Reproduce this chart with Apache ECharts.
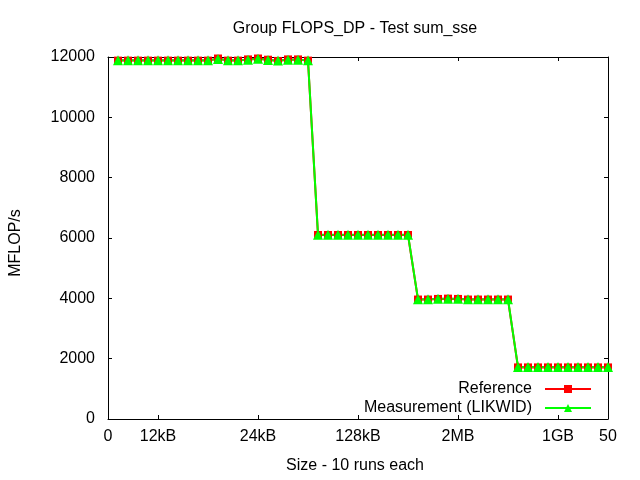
<!DOCTYPE html>
<html><head><meta charset="utf-8">
<script src="https://cdn.jsdelivr.net/npm/echarts@6/dist/echarts.min.js"></script>
<style>html,body{margin:0;padding:0;background:#fff}#c{width:640px;height:480px}</style>
</head><body><div id="c"></div>
<script>
const runs = [1,2,3,4,5,6,7,8,9,10,11,12,13,14,15,16,17,18,19,20,21,22,23,24,25,26,27,28,29,30,31,32,33,34,35,36,37,38,39,40,41,42,43,44,45,46,47,48,49,50];
const reference = [11880,11880,11880,11880,11880,11880,11880,11880,11880,11880,
  11950,11880,11880,11920,11950,11910,11870,11920,11920,11880,
  6100,6100,6100,6100,6100,6100,6100,6100,6100,6100,
  3960,3960,3980,3990,3980,3960,3960,3960,3960,3960,
  1710,1710,1710,1710,1710,1710,1710,1710,1710,1710];
const measurement = [11890,11890,11890,11890,11890,11890,11890,11890,11890,11890,
  11930,11890,11890,11910,11940,11900,11880,11910,11910,11890,
  6110,6110,6110,6110,6110,6110,6110,6110,6110,6110,
  3970,3970,3990,3990,3990,3970,3970,3970,3970,3970,
  1720,1720,1720,1720,1720,1720,1720,1720,1720,1720];
const xTickValues = [5,15,25,35,45];
const xLabelValues = [0,5,15,25,35,45,50];
const xLabelTexts = {0:'0',5:'12kB',15:'24kB',25:'128kB',35:'2MB',45:'1GB',50:'50'};

const font = 'Liberation Sans, Arial, sans-serif';
const chart = echarts.init(document.getElementById('c'));
const axisCommon = {
  axisLine:{show:true,onZero:false,lineStyle:{color:'#000',width:1}},
  splitLine:{show:false}
};
chart.setOption({
  animation:false,
  backgroundColor:'#fff',
  title:{text:'Group FLOPS_DP - Test sum_sse',left:350,top:16,textAlign:'center',
    textStyle:{fontFamily:font,fontSize:16,fontWeight:'normal',color:'#000'}},
  grid:{left:105,right:32,top:57,bottom:61},
  legend:{orient:'vertical',right:43,top:376,align:'right',itemWidth:46,itemHeight:10,itemGap:3,
    textStyle:{fontFamily:font,fontSize:16,color:'#000',padding:[0,8,0,0]},
    data:['Reference','Measurement (LIKWID)']},
  xAxis:[
    Object.assign({type:'value',min:0,max:50,position:'bottom',name:'Size - 10 runs each',
      nameLocation:'middle',nameGap:39,nameTextStyle:{fontFamily:font,fontSize:16,color:'#000',padding:[0,6,0,0]},
      axisTick:{show:true,inside:true,length:4,customValues:xTickValues,lineStyle:{color:'#000'}},
      axisLabel:{show:true,customValues:xLabelValues,margin:10,fontFamily:font,fontSize:16,color:'#000',
        formatter:v=>xLabelTexts[v]!==undefined?xLabelTexts[v]:''}},axisCommon),
    Object.assign({type:'value',min:0,max:50,position:'top',
      axisTick:{show:true,inside:true,length:4,customValues:xTickValues,lineStyle:{color:'#000'}},
      axisLabel:{show:false}},axisCommon)
  ],
  yAxis:[
    Object.assign({type:'value',min:0,max:12000,interval:2000,position:'left',name:'MFLOP/s',
      nameLocation:'middle',nameGap:84,nameTextStyle:{fontFamily:font,fontSize:16,color:'#000',padding:[0,10,0,0]},
      axisTick:{show:true,inside:true,length:4,lineStyle:{color:'#000'}},
      axisLabel:{margin:13,fontFamily:font,fontSize:16,color:'#000',formatter:v=>String(v)}},axisCommon),
    Object.assign({type:'value',min:0,max:12000,interval:2000,position:'right',
      axisTick:{show:true,inside:true,length:4,lineStyle:{color:'#000'}},
      axisLabel:{show:false}},axisCommon)
  ],
  series:[
    {name:'Reference',type:'line',xAxisIndex:0,yAxisIndex:0,data:runs.map((x,i)=>[x,reference[i]]),
      symbol:'rect',symbolSize:8,showAllSymbol:true,itemStyle:{color:'#ff0000'},lineStyle:{color:'#ff0000',width:2}},
    {name:'Measurement (LIKWID)',type:'line',xAxisIndex:0,yAxisIndex:0,data:runs.map((x,i)=>[x,measurement[i]]),
      symbol:'triangle',symbolSize:10,showAllSymbol:true,itemStyle:{color:'#00ff00'},lineStyle:{color:'#00ff00',width:2}}
  ]
});
</script></body></html>
